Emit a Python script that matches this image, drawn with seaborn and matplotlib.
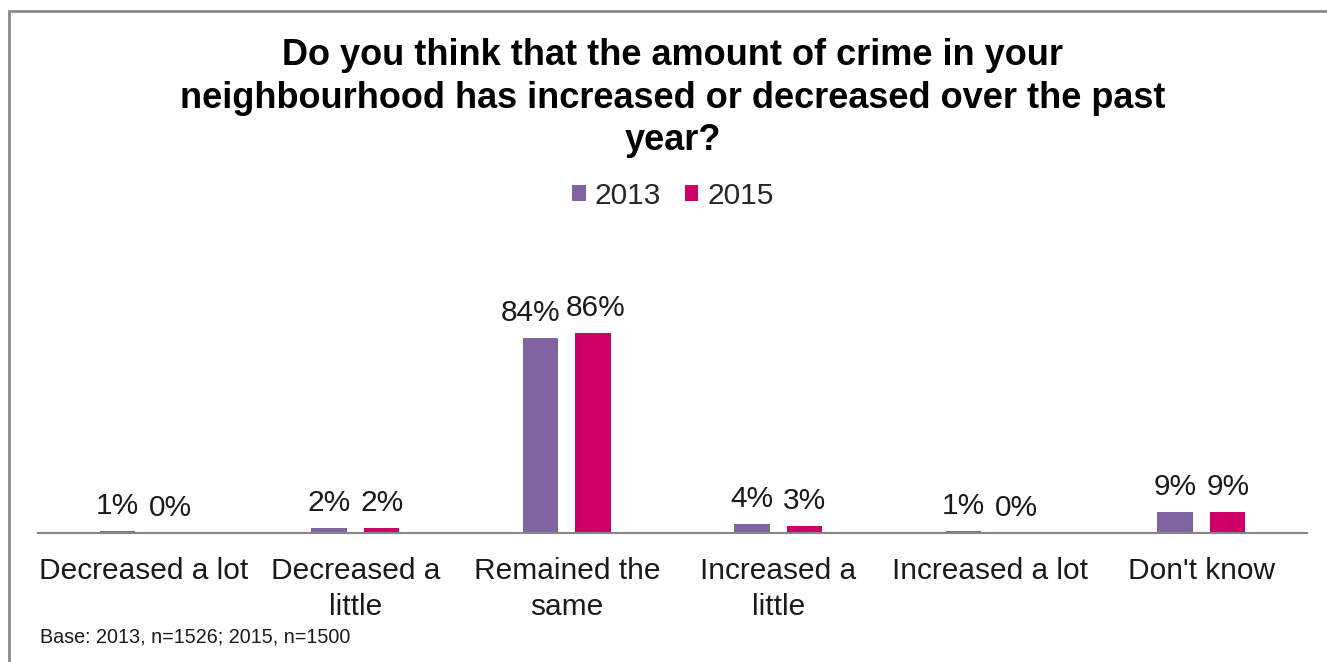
import matplotlib
matplotlib.use("Agg")
import matplotlib.pyplot as plt
from matplotlib.patches import Patch, Rectangle
import pandas as pd
import seaborn as sns

# Survey responses (% of respondents)
categories = ["Decreased a lot", "Decreased a\nlittle", "Remained the\nsame",
              "Increased a\nlittle", "Increased a lot", "Don't know"]
years = ["2013", "2015"]
values_2013 = [1, 2, 84, 4, 1, 9]
values_2015 = [0, 2, 86, 3, 0, 9]
colors = {"2013": "#8064A2", "2015": "#CC0066"}

title = ("Do you think that the amount of crime in your\n"
         "neighbourhood has increased or decreased over the past\n"
         "year?")
footnote = "Base: 2013, n=1526; 2015, n=1500"

df = pd.DataFrame({
    "category": categories * 2,
    "year": [years[0]] * len(categories) + [years[1]] * len(categories),
    "value": values_2013 + values_2015,
})

sns.set_theme(style="white")
plt.rcParams["font.family"] = ["Liberation Sans", "DejaVu Sans"]

fig = plt.figure(figsize=(13.27, 6.62), dpi=100)
fig.patch.set_facecolor("white")

# Outer frame (only its left and top edges fall inside the canvas)
fig.patches.append(Rectangle((9 / 1327, -0.2), 1.2, 1.2 - 11 / 662,
                             transform=fig.transFigure, fill=False,
                             edgecolor="#8a8a8a", linewidth=2))

ax = fig.add_axes([38 / 1327, (662 - 533) / 662, 1269 / 1327, 232 / 662])
sns.barplot(data=df, x="category", y="value", hue="year", order=categories,
            hue_order=years, palette=colors, width=0.5, gap=0.33,
            linewidth=0, saturation=1, ax=ax, legend=False)

ax.set_ylim(0, 100)
ax.set_xlim(-0.5, len(categories) - 0.5)
ax.set_xlabel("")
ax.set_ylabel("")
ax.set_yticks([])
for side in ("left", "right", "top"):
    ax.spines[side].set_visible(False)
ax.spines["bottom"].set_color("#868686")
ax.spines["bottom"].set_linewidth(1.5)
ax.tick_params(axis="x", length=0, pad=17, labelsize=21.5, labelcolor="#1a1a1a")
for lbl in ax.get_xticklabels():
    lbl.set_linespacing(1.4)
ax.set_facecolor("none")

label_sets = []
for container in ax.containers:
    label_sets.append(ax.bar_label(container, fmt="%d%%", padding=8,
                                   fontsize=21.5, color="#1a1a1a"))

# Push apart value labels of a pair when they would touch
fig.canvas.draw()
renderer = fig.canvas.get_renderer()
for left, right in zip(label_sets[0], label_sets[1]):
    bl = left.get_window_extent(renderer)
    br = right.get_window_extent(renderer)
    overlap = bl.x1 - br.x0 + 6
    if overlap > 0:
        dx = overlap * 72 / fig.dpi
        ox, oy = left.xyann
        left.xyann = (ox - dx * 0.8, oy)
        ox, oy = right.xyann
        right.xyann = (ox + dx * 0.2, oy)

fig.text(0.507, 1 - 38 / 662, title, ha="center", va="top", fontsize=26,
         fontweight="bold", color="black", linespacing=1.28)

handles = [Patch(facecolor=colors[y], edgecolor="none", label=y) for y in years]
fig.legend(handles=handles, loc="center", bbox_to_anchor=(0.507, 1 - 196 / 662),
           ncol=2, frameon=False, fontsize=21.5, handlelength=0.45,
           handleheight=0.45, handletextpad=0.3, columnspacing=0.8)

fig.text(40 / 1327, 1 - 637 / 662, footnote, ha="left", va="center",
         fontsize=14.2, color="#1a1a1a")

fig.savefig("out.png", dpi=100, facecolor="white")
